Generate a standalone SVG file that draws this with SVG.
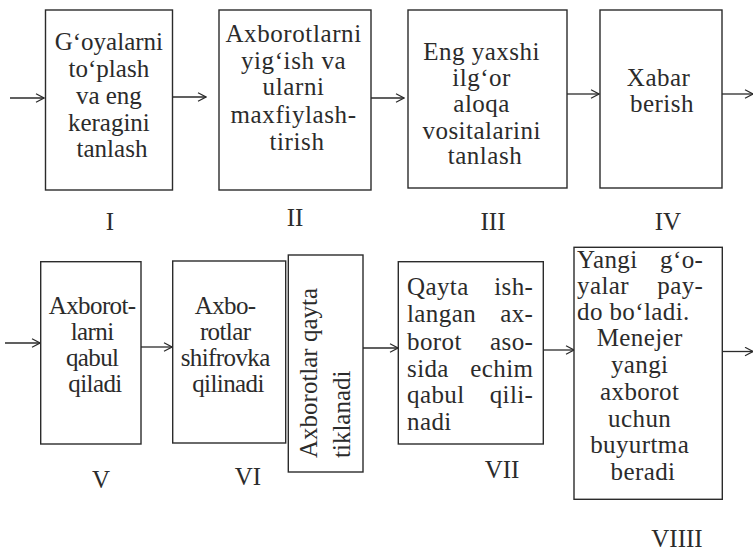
<svg xmlns="http://www.w3.org/2000/svg" width="753" height="557" viewBox="0 0 753 557">
  <defs>
    <marker id="head" viewBox="0 0 10 10" refX="9" refY="5" markerWidth="10" markerHeight="10" markerUnits="userSpaceOnUse" orient="auto">
      <polyline points="1,0.8 9,5 1,9.2" fill="none" stroke="#2b2b2b" stroke-width="1.2"/>
    </marker>
  </defs>
  <style>
    .box { fill: #fff; stroke: #2b2b2b; stroke-width: 1.4; }
    .c { text-anchor: middle; }
    .cond { letter-spacing: -0.6px; }
    .lab { text-anchor: middle; }
    .arr { fill: none; stroke: #2b2b2b; stroke-width: 1.3; marker-end: url(#head); }
  </style>
  <rect width="753" height="557" fill="#fff"/>

  <!-- connectors -->
  <g id="connectors">
    <line class="arr" x1="10" y1="98" x2="44" y2="98"/>
    <line class="arr" x1="173" y1="97" x2="206" y2="97"/>
    <line class="arr" x1="371" y1="98" x2="404" y2="98"/>
    <line class="arr" x1="567" y1="94" x2="599" y2="94"/>
    <line class="arr" x1="722" y1="94" x2="753" y2="94"/>
    <line class="arr" x1="5" y1="343" x2="40" y2="343"/>
    <line class="arr" x1="141" y1="347" x2="172" y2="347"/>
    <line class="arr" x1="363" y1="348" x2="398" y2="348"/>
    <line class="arr" x1="543" y1="350" x2="574" y2="350"/>
    <line class="arr" x1="722" y1="351.5" x2="753" y2="351.5"/>
  </g>

  <g font-family="'Liberation Serif', 'DejaVu Serif', 'Times New Roman', serif" font-size="25" fill="#2b2b2b">
  <!-- step I -->
  <g id="step-1">
    <rect class="box" x="45.5" y="10" width="127" height="180"/>
    <text class="c" x="112">
      <tspan x="112" y="50">G‘oyalarni</tspan>
      <tspan x="112" y="77">to‘plash</tspan>
      <tspan x="112" y="104">va eng</tspan>
      <tspan x="112" y="131">keragini</tspan>
      <tspan x="112" y="157">tanlash</tspan>
    </text>
    <text class="lab" x="110" y="230">I</text>
  </g>

  <!-- step II -->
  <g id="step-2">
    <rect class="box" x="219" y="10" width="152" height="180"/>
    <text class="c" x="297" letter-spacing="0.6">
      <tspan x="297" y="42">Axborotlarni</tspan>
      <tspan x="297" y="69">yig‘ish va</tspan>
      <tspan x="297" y="95">ularni</tspan>
      <tspan x="297" y="123">maxfiylash-</tspan>
      <tspan x="297" y="150">tirish</tspan>
    </text>
    <text class="lab" x="295" y="226">II</text>
  </g>

  <!-- step III -->
  <g id="step-3">
    <rect class="box" x="408" y="10" width="159" height="178"/>
    <text class="c" x="485" letter-spacing="0.5">
      <tspan x="485" y="60">Eng yaxshi</tspan>
      <tspan x="485" y="86">ilg‘or</tspan>
      <tspan x="485" y="112">aloqa</tspan>
      <tspan x="485" y="139">vositalarini</tspan>
      <tspan x="485" y="164">tanlash</tspan>
    </text>
    <text class="lab" x="493" y="230">III</text>
  </g>

  <!-- step IV -->
  <g id="step-4">
    <rect class="box" x="600" y="10" width="122" height="178"/>
    <text class="c" x="662" letter-spacing="0.5">
      <tspan x="662" y="86">Xabar</tspan>
      <tspan x="662" y="112">berish</tspan>
    </text>
    <text class="lab" x="668" y="230">IV</text>
  </g>

  <!-- step V -->
  <g id="step-5">
    <rect class="box" x="40.7" y="261.7" width="100.3" height="182.3"/>
    <text class="c cond" x="95">
      <tspan x="95" y="314">Axborot-</tspan>
      <tspan x="95" y="340">larni</tspan>
      <tspan x="95" y="366">qabul</tspan>
      <tspan x="95" y="392">qiladi</tspan>
    </text>
    <text class="lab" x="101" y="488">V</text>
  </g>

  <!-- step VI -->
  <g id="step-6">
    <rect class="box" x="172.7" y="261" width="113" height="182"/>
    <text class="c cond" x="228">
      <tspan x="228" y="314">Axbo-</tspan>
      <tspan x="228" y="340">rotlar</tspan>
      <tspan x="228" y="366">shifrovka</tspan>
      <tspan x="228" y="392">qilinadi</tspan>
    </text>
    <text class="lab" x="248" y="485">VI</text>
  </g>

  <!-- restoration (vertical label) -->
  <g id="step-6b">
    <rect class="box" x="288.3" y="255" width="74.7" height="217"/>
    <text transform="translate(317 458) rotate(-90)">Axborotlar qayta</text>
    <text transform="translate(350 458) rotate(-90)">tiklanadi</text>
  </g>

  <!-- step VII -->
  <g id="step-7">
    <rect class="box" x="398.3" y="261.7" width="145" height="182.3"/>
    <text letter-spacing="0.4">
      <tspan x="407" y="295">Qayta</tspan><tspan x="540" y="295" text-anchor="end">ish-</tspan>
      <tspan x="407" y="322">langan</tspan><tspan x="540" y="322" text-anchor="end">ax-</tspan>
      <tspan x="407" y="350">borot</tspan><tspan x="540" y="350" text-anchor="end">aso-</tspan>
      <tspan x="407" y="377">sida</tspan><tspan x="540" y="377" text-anchor="end">echim</tspan>
      <tspan x="407" y="403">qabul</tspan><tspan x="540" y="403" text-anchor="end">qili-</tspan>
      <tspan x="407" y="430">nadi</tspan>
    </text>
    <text class="lab" x="502" y="478">VII</text>
  </g>

  <!-- step VIII -->
  <g id="step-8">
    <rect class="box" x="574" y="247.3" width="148.3" height="252"/>
    <text letter-spacing="0.4">
      <tspan x="577" y="268">Yangi</tspan><tspan x="710" y="268" text-anchor="end">g‘o-</tspan>
      <tspan x="577" y="294">yalar</tspan><tspan x="710" y="294" text-anchor="end">pay-</tspan>
      <tspan x="577" y="320">do bo‘ladi.</tspan>
    </text>
    <text class="c" x="643" letter-spacing="0.4">
      <tspan x="643" y="346">Menejer</tspan>
      <tspan x="643" y="373">yangi</tspan>
      <tspan x="643" y="400">axborot</tspan>
      <tspan x="643" y="427">uchun</tspan>
      <tspan x="643" y="453">buyurtma</tspan>
      <tspan x="643" y="480">beradi</tspan>
    </text>
    <text class="lab" x="677" y="547">VIIII</text>
  </g>
  </g>
</svg>
